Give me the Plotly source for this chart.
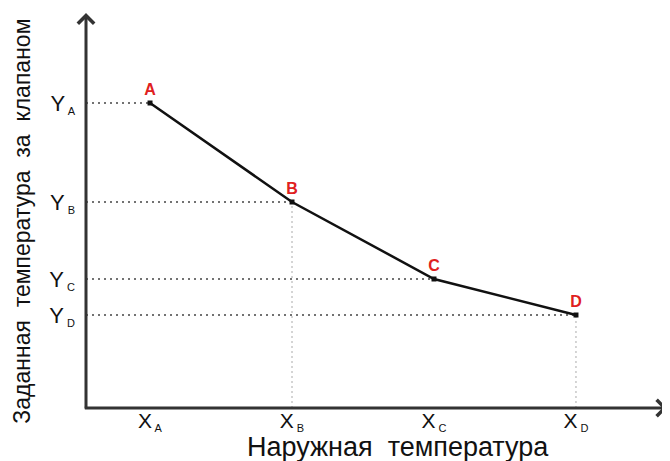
import plotly.graph_objects as go

# points of the heating curve (A..D)
point_names = ["A", "B", "C", "D"]
x_vals = [1, 2, 3, 4]
y_vals = [30.5, 20.6, 12.9, 9.3]
sub = '<sub><span style="font-size:11px"> {}</span></sub>'
x_tick_text = ["X" + sub.format(n) for n in point_names]
y_tick_text = ["Y" + sub.format(n) for n in point_names]
vertical_guides = [1, 3]  # indexes of points with a dotted drop line

x_range = [0.549, 4.627]
y_range = [0, 39.3]

font = "Liberation Sans, Arial, sans-serif"

fig = go.Figure()

# dotted guides to the y axis
for xv, yv in zip(x_vals, y_vals):
    fig.add_trace(
        go.Scatter(
            x=[x_range[0], xv],
            y=[yv, yv],
            mode="lines",
            line={"color": "#444", "width": 1.5, "dash": "2px,4px"},
            hoverinfo="skip",
        )
    )

# dotted guides to the x axis
for i in vertical_guides:
    fig.add_trace(
        go.Scatter(
            x=[x_vals[i], x_vals[i]],
            y=[y_range[0], y_vals[i]],
            mode="lines",
            line={"color": "#aaa", "width": 1, "dash": "2px,3px"},
            hoverinfo="skip",
        )
    )

fig.add_trace(
    go.Scatter(
        x=x_vals,
        y=y_vals,
        mode="lines+markers+text",
        text=point_names,
        textposition="top center",
        textfont={"color": "#e02020", "size": 16, "family": font, "weight": "bold"},
        line={"color": "#111", "width": 2.5},
        marker={"symbol": "square", "size": 5, "color": "#111"},
    )
)

# axes drawn as arrows
fig.add_annotation(
    x=0, y=1.005, xref="paper", yref="paper",
    ax=0, ay=397, axref="pixel", ayref="pixel",
    showarrow=True, arrowhead=4, arrowsize=1.05, arrowwidth=3, arrowcolor="#333", text="",
)
fig.add_annotation(
    x=1.004, y=0, xref="paper", yref="paper",
    ax=-584, ay=0, axref="pixel", ayref="pixel",
    showarrow=True, arrowhead=4, arrowsize=1.05, arrowwidth=3, arrowcolor="#333", text="",
)

# axis titles
fig.add_annotation(
    x=0.539, y=-0.1, xref="paper", yref="paper", yanchor="middle",
    text="Наружная  температура", showarrow=False, font={"size": 27},
)
fig.add_annotation(
    x=-0.111, y=0.476, xref="paper", yref="paper", xanchor="center", yanchor="middle",
    text="Заданная  температура  за  клапаном", textangle=-90, showarrow=False,
    font={"size": 23},
)

# page body adds an 8px offset, so margins are shifted to compensate
fig.update_layout(
    width=670,
    height=461,
    margin={"l": 78, "r": 13, "t": 7, "b": 61},
    paper_bgcolor="white",
    plot_bgcolor="white",
    showlegend=False,
    font={"family": font, "color": "#111"},
    xaxis={
        "range": x_range,
        "tickvals": x_vals,
        "ticktext": x_tick_text,
        "tickfont": {"size": 21},
        "showgrid": False,
        "zeroline": False,
        "showline": False,
        "ticks": "",
        "ticklabelstandoff": -2,
        "automargin": False,
    },
    yaxis={
        "range": y_range,
        "tickvals": y_vals,
        "ticktext": y_tick_text,
        "tickfont": {"size": 22},
        "showgrid": False,
        "zeroline": False,
        "showline": False,
        "ticks": "",
        "ticklabelstandoff": 10,
        "automargin": False,
    },
)

fig.write_html("out.html")
